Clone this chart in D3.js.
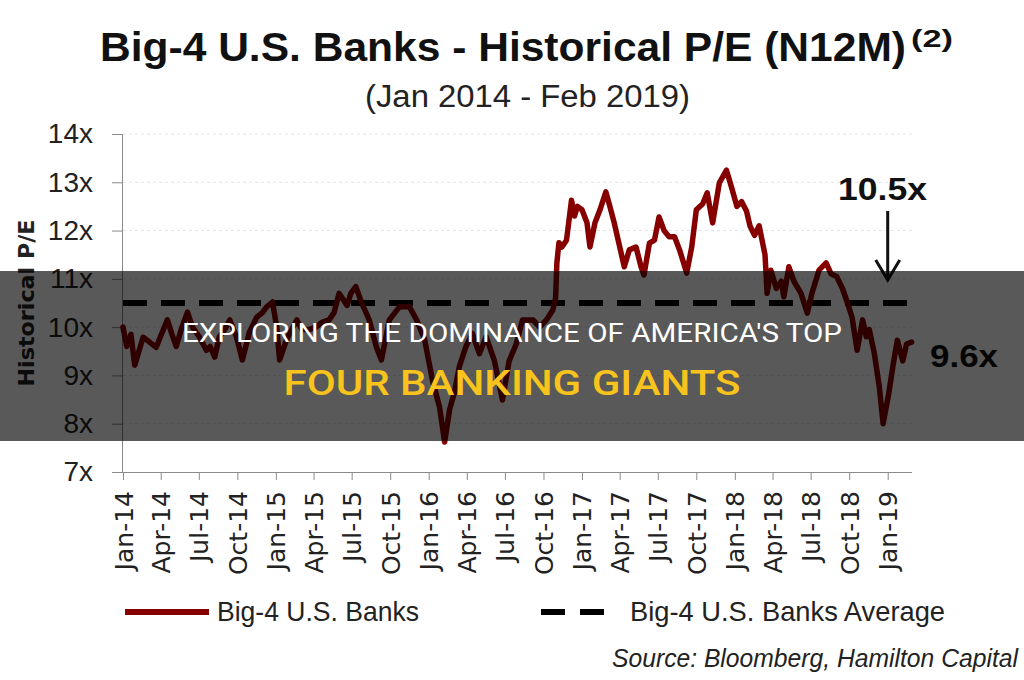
<!DOCTYPE html>
<html>
<head>
<meta charset="utf-8">
<script src="https://cdn.jsdelivr.net/npm/d3@7"></script>
<style>
  body { margin: 0; background: #fff; }
  svg { display: block; }
</style>
</head>
<body>
<div id="container"></div>
<script>
/* CONSTANTS AND GLOBALS */
const width = 1024;
const height = 680;
const margin = { top: 134, right: 112, bottom: 208, left: 123 };

// DATA - Big-4 P/E (N12M)
const dates = [
  "2014-01-01","2014-01-10","2014-01-20","2014-01-29","2014-02-08","2014-02-18","2014-03-04","2014-03-21","2014-04-05","2014-04-17",
  "2014-04-28","2014-05-08","2014-05-20","2014-06-04","2014-06-16","2014-07-02","2014-07-19","2014-07-28","2014-08-08","2014-08-19",
  "2014-09-01","2014-09-13","2014-09-29","2014-10-13","2014-10-30","2014-11-16","2014-11-30","2014-12-10","2014-12-24",
  "2015-01-03","2015-01-10","2015-01-27","2015-02-20","2015-03-04","2015-03-21","2015-04-07","2015-04-21","2015-05-08","2015-05-20",
  "2015-06-01","2015-06-20","2015-06-29","2015-07-11","2015-07-25","2015-08-12","2015-08-29","2015-09-10","2015-09-29","2015-10-23",
  "2015-11-16","2015-12-03","2015-12-22",
  "2016-01-10","2016-01-27","2016-02-08","2016-02-20","2016-03-02","2016-03-14","2016-03-30","2016-04-14","2016-05-01","2016-05-17",
  "2016-06-06","2016-06-25","2016-07-11","2016-07-28","2016-08-12","2016-09-06","2016-09-22","2016-10-08","2016-10-23","2016-10-30",
  "2016-11-02","2016-11-07","2016-11-14","2016-11-25","2016-12-07","2016-12-14","2016-12-21",
  "2017-01-01","2017-01-13","2017-01-20","2017-02-01","2017-02-13","2017-02-27","2017-03-07","2017-03-19","2017-03-30","2017-04-12",
  "2017-04-24","2017-05-10","2017-05-22","2017-05-29","2017-06-11","2017-06-23","2017-07-04","2017-07-16","2017-07-28","2017-08-10",
  "2017-08-22","2017-09-08","2017-09-20","2017-10-01","2017-10-16","2017-10-27","2017-11-09","2017-11-25","2017-12-12","2017-12-24",
  "2018-01-06","2018-01-17","2018-01-29","2018-02-06","2018-02-17","2018-02-28","2018-03-07","2018-03-14","2018-03-19","2018-03-28",
  "2018-04-10","2018-04-22","2018-04-28","2018-05-10","2018-05-22","2018-06-08","2018-06-23","2018-07-04","2018-07-21","2018-08-07",
  "2018-08-19","2018-09-01","2018-09-15","2018-09-27","2018-10-08","2018-10-20","2018-11-02","2018-11-11","2018-11-18","2018-11-30",
  "2018-12-12","2018-12-21",
  "2019-01-03","2019-01-13","2019-01-24","2019-02-06","2019-02-15","2019-02-27"
];

const peValues = [
  10.0, 9.6, 9.85, 9.21, 9.5, 9.79, 9.7, 9.58, 9.9, 10.15,
  9.85, 9.6, 9.95, 10.31, 10.0, 9.8, 9.52, 9.6, 9.38, 9.8,
  9.95, 10.15, 9.8, 9.32, 9.9, 10.2, 10.3, 10.42, 10.52,
  10.0, 9.32, 9.75, 10.15, 9.95, 9.95, 10.0, 10.1, 10.15, 10.3,
  10.7, 10.45, 10.7, 10.84, 10.5, 10.15, 9.59, 9.32, 10.15, 10.42,
  10.42, 10.15, 9.75,
  8.9, 8.34, 7.62, 8.3, 8.63, 9.18, 9.6, 9.87, 9.45, 9.8,
  9.3, 8.49, 9.3, 9.65, 10.15, 10.15, 10.0, 10.15, 10.35, 10.6,
  11.33, 11.75, 11.66, 11.8, 12.63, 12.3, 12.5,
  12.43, 12.16, 11.66, 12.16, 12.43, 12.8, 12.55, 12.16, 11.74, 11.25,
  11.6, 11.66, 11.25, 11.08, 11.74, 11.8, 12.28, 12.0, 11.87, 11.87,
  11.6, 11.12, 11.66, 12.43, 12.55, 12.78, 12.16, 12.99, 13.25, 12.9,
  12.5, 12.6, 12.4, 12.1, 11.9, 12.1, 11.8, 11.5, 10.7, 11.18,
  10.8, 10.95, 10.63, 11.25, 10.95, 10.7, 10.29, 10.7, 11.18, 11.33,
  11.1, 11.05, 10.8, 10.5, 10.2, 9.52, 10.15, 9.8, 9.95, 9.46,
  8.76, 8.0,
  8.6, 9.17, 9.73, 9.3, 9.65, 9.69
];

const averagePE = 10.5;
const latestPE = 9.6;
const yTicks = [7, 8, 9, 10, 11, 12, 13, 14];
const xTickDates = [
  "2014-01-01","2014-04-01","2014-07-01","2014-10-01","2015-01-01","2015-04-01","2015-07-01",
  "2015-10-01","2016-01-01","2016-04-01","2016-07-01","2016-10-01","2017-01-01","2017-04-01",
  "2017-07-01","2017-10-01","2018-01-01","2018-04-01","2018-07-01","2018-10-01","2019-01-01"
];
const xDomain = ["2014-01-01", "2019-02-28"];

const parseDate = d3.timeParse("%Y-%m-%d");
const series = d3.zip(dates, peValues).map(([d, v]) => ({ date: parseDate(d), pe: v }));

const calibri = "'Liberation Sans Narrow', 'Liberation Sans', Arial, sans-serif";

// CREATE SVG
const svg = d3.select("#container")
  .append("svg")
  .attr("width", width)
  .attr("height", height)
  .style("background-color", "#fff");

/* SCALES */
const xScale = d3.scaleTime()
  .domain(xDomain.map(parseDate))
  .range([margin.left, width - margin.right]);

const yScale = d3.scaleLinear()
  .domain([7, 14])
  .range([height - margin.bottom, margin.top]);

// FAINT GRIDLINES
svg.append("g")
  .selectAll("line")
  .data(yTicks.slice(1))
  .join("line")
  .attr("x1", margin.left)
  .attr("x2", width - margin.right)
  .attr("y1", d => yScale(d))
  .attr("y2", d => yScale(d))
  .attr("stroke", "#e4e4e4")
  .attr("stroke-dasharray", "3,3");

// AXES
const yAxis = d3.axisLeft(yScale)
  .tickValues(yTicks)
  .tickFormat(d => d + "x")
  .tickSize(11)
  .tickPadding(19);

const yG = svg.append("g")
  .attr("transform", `translate(${margin.left},0)`)
  .call(yAxis);
yG.select(".domain").attr("stroke", "#8a8a8a").attr("d", `M-0.5,${yScale(14)}V${yScale(7)}`);
yG.selectAll(".tick line").attr("stroke", "#8a8a8a");
yG.selectAll(".tick text")
  .attr("fill", "#222")
  .style("font-family", "'Liberation Sans', Arial, sans-serif")
  .style("font-size", "28px");

const xAxis = d3.axisBottom(xScale)
  .tickValues(xTickDates.map(parseDate))
  .tickFormat(d3.timeFormat("%b-%y"))
  .tickSize(8)
  .tickSizeOuter(0);

const xG = svg.append("g")
  .attr("transform", `translate(0,${yScale(7)})`)
  .call(xAxis);
xG.select(".domain").attr("stroke", "#8a8a8a").attr("d", `M${margin.left - 11},0.5H${width - margin.right}`);
xG.selectAll(".tick line").attr("stroke", "#8a8a8a");
xG.selectAll(".tick text")
  .attr("fill", "#222")
  .attr("transform", "rotate(-90)")
  .attr("text-anchor", "end")
  .attr("x", -19)
  .attr("y", 0)
  .attr("dy", "0.36em")
  .style("font-family", "'DejaVu Sans', Verdana, sans-serif")
  .style("font-size", "25px");

// AVERAGE LINE
svg.append("line")
  .attr("x1", margin.left)
  .attr("x2", width - margin.right + 1)
  .attr("y1", yScale(averagePE))
  .attr("y2", yScale(averagePE))
  .attr("stroke", "#000")
  .attr("stroke-width", 6)
  .attr("stroke-dasharray", "24,14");

// P/E LINE
const lineGen = d3.line()
  .x(d => xScale(d.date))
  .y(d => yScale(d.pe));

svg.append("path")
  .datum(series)
  .attr("d", lineGen)
  .attr("fill", "none")
  .attr("stroke", "#860000")
  .attr("stroke-width", 5.5)
  .attr("stroke-linejoin", "round")
  .attr("stroke-linecap", "round");

// TITLES
svg.append("text")
  .attr("x", 100)
  .attr("y", 61)
  .attr("textLength", 806)
  .attr("lengthAdjust", "spacingAndGlyphs")
  .style("font-family", calibri)
  .style("font-weight", "bold")
  .style("font-size", "40px")
  .attr("fill", "#111")
  .text("Big-4 U.S. Banks - Historical P/E (N12M)");

svg.append("text")
  .attr("x", 911)
  .attr("y", 47)
  .attr("textLength", 42)
  .attr("lengthAdjust", "spacingAndGlyphs")
  .style("font-family", calibri)
  .style("font-weight", "bold")
  .style("font-size", "24px")
  .attr("fill", "#111")
  .text("(2)");

svg.append("text")
  .attr("x", 365)
  .attr("y", 107)
  .attr("textLength", 325)
  .attr("lengthAdjust", "spacingAndGlyphs")
  .style("font-family", calibri)
  .style("font-size", "31px")
  .attr("fill", "#222")
  .text("(Jan 2014 - Feb 2019)");

// Y AXIS LABEL
svg.append("text")
  .attr("transform", "rotate(-90)")
  .attr("x", -303)
  .attr("y", 34)
  .attr("text-anchor", "middle")
  .attr("textLength", 167)
  .attr("lengthAdjust", "spacingAndGlyphs")
  .style("font-family", "'DejaVu Sans', Verdana, sans-serif")
  .style("font-weight", "bold")
  .style("font-size", "22px")
  .attr("fill", "#222")
  .text("Historical P/E");

// ANNOTATIONS
const annoX = xScale(parseDate("2019-01-01"));

svg.append("text")
  .attr("x", 838)
  .attr("y", 200)
  .attr("textLength", 89)
  .attr("lengthAdjust", "spacingAndGlyphs")
  .style("font-family", "'Liberation Sans', Arial, sans-serif")
  .style("font-weight", "bold")
  .style("font-size", "32px")
  .attr("fill", "#111")
  .text(averagePE.toFixed(1) + "x");

svg.append("path")
  .attr("d", `M${annoX},211V279M${annoX - 12},260L${annoX},280L${annoX + 12},260`)
  .attr("fill", "none")
  .attr("stroke", "#111")
  .attr("stroke-width", 3);

svg.append("text")
  .attr("x", 930)
  .attr("y", 367)
  .attr("textLength", 68)
  .attr("lengthAdjust", "spacingAndGlyphs")
  .style("font-family", "'Liberation Sans', Arial, sans-serif")
  .style("font-weight", "bold")
  .style("font-size", "32px")
  .attr("fill", "#111")
  .text(latestPE.toFixed(1) + "x");

// LEGEND
const legendY = 612;
svg.append("line")
  .attr("x1", 125).attr("x2", 209)
  .attr("y1", legendY).attr("y2", legendY)
  .attr("stroke", "#860000")
  .attr("stroke-width", 6);

svg.append("text")
  .attr("x", 217)
  .attr("y", legendY + 9)
  .attr("textLength", 202)
  .attr("lengthAdjust", "spacingAndGlyphs")
  .style("font-family", calibri)
  .style("font-size", "28px")
  .attr("fill", "#222")
  .text("Big-4 U.S. Banks");

svg.append("line")
  .attr("x1", 541).attr("x2", 604)
  .attr("y1", legendY).attr("y2", legendY)
  .attr("stroke", "#000")
  .attr("stroke-width", 6)
  .attr("stroke-dasharray", "24,15");

svg.append("text")
  .attr("x", 630)
  .attr("y", legendY + 9)
  .attr("textLength", 315)
  .attr("lengthAdjust", "spacingAndGlyphs")
  .style("font-family", calibri)
  .style("font-size", "28px")
  .attr("fill", "#222")
  .text("Big-4 U.S. Banks Average");

// SOURCE
svg.append("text")
  .attr("x", 612)
  .attr("y", 667)
  .attr("textLength", 406)
  .attr("lengthAdjust", "spacingAndGlyphs")
  .style("font-family", calibri)
  .style("font-style", "italic")
  .style("font-size", "25px")
  .attr("fill", "#222")
  .text("Source: Bloomberg, Hamilton Capital");

// OVERLAY BANNER
svg.append("rect")
  .attr("x", 0)
  .attr("y", 271)
  .attr("width", width)
  .attr("height", 170)
  .attr("fill", "rgba(0,0,0,0.65)");

svg.append("text")
  .attr("x", width / 2)
  .attr("y", 342)
  .attr("text-anchor", "middle")
  .attr("textLength", 660)
  .attr("lengthAdjust", "spacingAndGlyphs")
  .style("font-family", "Roboto, 'Open Sans', sans-serif")
  .style("font-size", "26px")
  .attr("fill", "#fff")
  .text("EXPLORING THE DOMINANCE OF AMERICA'S TOP");

svg.append("text")
  .attr("x", width / 2)
  .attr("y", 395)
  .attr("text-anchor", "middle")
  .attr("textLength", 457)
  .attr("lengthAdjust", "spacingAndGlyphs")
  .style("font-family", "Roboto, 'Open Sans', sans-serif")
  .style("font-weight", 500)
  .style("font-size", "35px")
  .attr("fill", "#f7c31c")
  .text("FOUR BANKING GIANTS");
</script>
</body>
</html>
